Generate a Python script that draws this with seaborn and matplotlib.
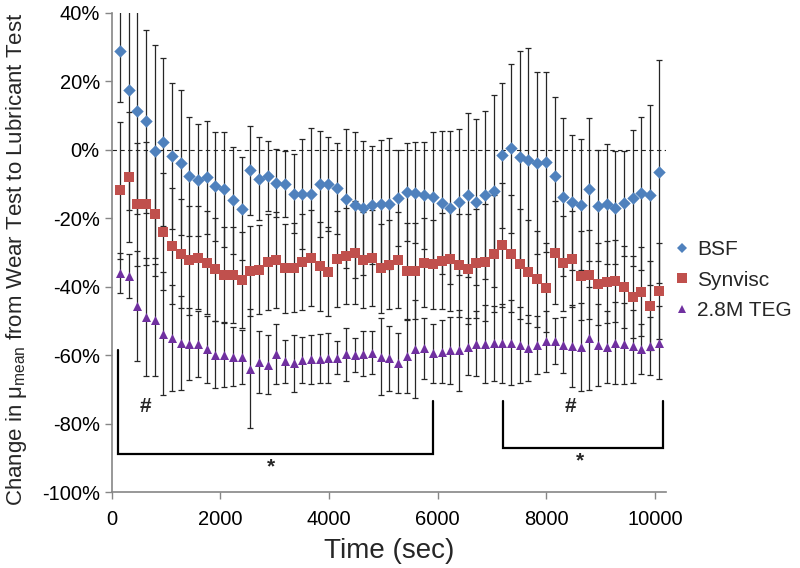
import numpy as np
import pandas as pd
import matplotlib
matplotlib.use("Agg")
import matplotlib.pyplot as plt
from matplotlib.ticker import PercentFormatter, MultipleLocator
from matplotlib.lines import Line2D
import seaborn as sns

sns.set_theme(style="ticks")
plt.rcParams["font.family"] = ["Liberation Sans", "DejaVu Sans"]
plt.rcParams["mathtext.fontset"] = "custom"
plt.rcParams["mathtext.rm"] = "Liberation Sans"
plt.rcParams["mathtext.it"] = "Liberation Sans:italic"
plt.rcParams["axes.unicode_minus"] = False

# ----------------------------------------------------------------------
# data (% change)
# ----------------------------------------------------------------------
time_sec = [150, 310, 470, 630, 790, 950, 1110, 1270, 1430, 1590,
            1750, 1910, 2070, 2230, 2390, 2550, 2710, 2870, 3030, 3190,
            3350, 3510, 3670, 3830, 3990, 4150, 4310, 4470, 4630, 4790,
            4950, 5110, 5270, 5430, 5590, 5750, 5910, 6070, 6230, 6390,
            6550, 6710, 6870, 7030, 7190, 7350, 7510, 7670, 7830, 7990,
            8150, 8310, 8470, 8630, 8790, 8950, 9110, 9270, 9430, 9590,
            9750, 9910, 10070]

bsf_mean = [28.9, 17.3, 11.3, 8.3, -0.5, 2.2, -1.8, -3.8, -7.8, -8.8,
            -8.1, -10.6, -11.6, -14.8, -17.2, -6.0, -8.5, -7.7, -9.6, -10.0,
            -12.8, -13.0, -12.8, -9.9, -9.9, -11.3, -14.3, -16.1, -17.0, -16.1,
            -15.8, -15.7, -14.1, -12.3, -12.5, -13.3, -13.9, -15.5, -16.9, -15.2,
            -13.2, -15.2, -13.2, -12.0, -1.6, 0.4, -2.2, -2.9, -3.9, -3.6,
            -7.8, -13.9, -15.4, -16.1, -11.6, -16.3, -15.9, -16.9, -15.6, -14.1,
            -12.7, -13.2, -6.4]
bsf_err = [15, 35, 30, 26.8, 31, 24.6, 21.2, 21.2, 17.5, 16.3,
           16.5, 15.9, 16.7, 15.5, 15, 13, 12.1, 10.3, 9.9, 9.7,
           11.5, 16.1, 19.1, 15.5, 13.7, 13.4, 20.3, 21.2, 19.6, 17.3,
           18.6, 19.1, 14.1, 14.2, 14.7, 15.7, 19, 20.9, 22.3, 21.4,
           23.9, 24.2, 24.6, 28.1, 21.2, 24.6, 31, 32.5, 26.5, 26.2,
           23.1, 23.1, 19.8, 19.1, 20.9, 16.3, 17.6, 16.6, 15.3, 19.9,
           22.4, 26.4, 32.5]

synvisc_mean = [-11.8, -7.9, -15.9, -15.7, -18.8, -23.9, -28.1, -30.3, -32.3, -31.5,
                -33.0, -34.9, -36.5, -36.5, -37.9, -35.4, -35.0, -32.7, -32.1, -34.6,
                -34.5, -32.7, -31.5, -34.0, -35.6, -32.0, -31.1, -30.1, -32.3, -31.5,
                -34.6, -33.6, -32.3, -35.4, -35.4, -33.0, -33.5, -32.5, -32.0, -33.7,
                -34.9, -33.2, -32.9, -30.3, -27.8, -30.3, -33.4, -35.6, -37.8, -40.3,
                -30.0, -33.2, -32.0, -36.8, -36.5, -39.1, -38.5, -38.3, -40.1, -42.9,
                -41.4, -45.6, -41.2]
synvisc_err = [20, 19, 18, 18, 18, 17, 17, 16, 16, 15,
               15, 15, 14, 14, 14, 13, 13, 14, 14, 13,
               13, 14, 14, 13, 13, 14, 14, 15, 14, 14,
               13, 13, 14, 14, 14, 13, 13, 14, 15, 15,
               16, 16, 17, 17, 18, 17, 16, 15, 14, 13,
               15, 14, 14, 13, 13, 12, 12, 12, 12, 12,
               13, 13, 14]

teg_mean = [-35.9, -36.8, -45.7, -48.8, -49.8, -53.7, -54.9, -56.3, -56.8, -56.8,
            -58.3, -59.8, -59.8, -60.4, -60.5, -63.9, -62.0, -62.7, -59.6, -61.7,
            -62.4, -61.4, -61.2, -61.0, -60.7, -60.7, -59.7, -59.9, -59.5, -59.3,
            -60.4, -60.9, -62.2, -60.3, -58.3, -58.0, -59.4, -59.0, -58.6, -58.6,
            -57.5, -56.6, -56.6, -56.5, -56.5, -56.3, -57.0, -57.8, -57.0, -55.9,
            -55.8, -57.0, -57.3, -57.6, -55.1, -57.0, -57.6, -56.4, -56.6, -57.4,
            -58.3, -57.3, -56.3]
teg_err = [5.8, 6.4, 16, 17.3, 16.3, 18, 15.4, 13.7, 10.5, 9.6,
           9.9, 9.7, 9.5, 8.6, 7.8, 17.3, 9.1, 8.5, 8.7, 6.3,
           8.4, 6.6, 7.1, 7.2, 7.3, 4.9, 7.8, 4.9, 6.6, 6.3,
           11.2, 9.5, 8.8, 10.7, 14.3, 9, 8.6, 9.2, 9.9, 11.7,
           8.3, 9.5, 11.4, 11, 11.5, 12.5, 11, 9.7, 8.4, 8.9,
           6.7, 8.2, 12, 12.9, 14.9, 12, 10.4, 12, 11.9, 10.6,
           7.3, 8.5, 10.7]

series = ["BSF", "Synvisc", "2.8M TEG"]
means = {"BSF": bsf_mean, "Synvisc": synvisc_mean, "2.8M TEG": teg_mean}
errs = {"BSF": bsf_err, "Synvisc": synvisc_err, "2.8M TEG": teg_err}
colors = {"BSF": "#4F81BD", "Synvisc": "#C0504D", "2.8M TEG": "#7030A0"}
markers = {"BSF": "D", "Synvisc": "s", "2.8M TEG": "^"}
msize = {"BSF": 40, "Synvisc": 62, "2.8M TEG": 42}

df = pd.concat([pd.DataFrame({"time": time_sec, "change": means[k],
                              "err": errs[k], "lubricant": k}) for k in series],
               ignore_index=True)

# significance brackets: (x_start, x_end, y_bottom, y_left_top, y_right_top)
brackets = [(111, 5918, -88.8, -58.5, -73.4), (7200, 10153, -87.0, -73.4, -73.4)]
hash_marks = [(628, -75.0), (8450, -75.0)]
star_marks = [(2935, -92.5), (8614, -90.8)]

# ----------------------------------------------------------------------
# plot
# ----------------------------------------------------------------------
fig = plt.figure(figsize=(8, 5.68), dpi=100)
ax = fig.add_axes([0.1396, 0.1333, 0.8324 - 0.1396, 0.9776 - 0.1333])

ax.axhline(0, color="#222222", lw=0.8, ls=(0, (4, 3)), zorder=0)

for k in series:
    s = df[df["lubricant"] == k]
    ax.errorbar(s["time"], s["change"], yerr=s["err"], fmt="none",
                ecolor="#262626", elinewidth=0.9, capsize=2.0, capthick=0.9,
                zorder=1)
for k in series:
    s = df[df["lubricant"] == k]
    sns.scatterplot(data=s, x="time", y="change", ax=ax, color=colors[k],
                    marker=markers[k], s=msize[k], linewidth=0, zorder=3,
                    legend=False)

for x0, x1, yb, yl, yr in brackets:
    ax.plot([x0, x0, x1, x1], [yl, yb, yb, yr], color="black", lw=1.6,
            solid_joinstyle="miter", clip_on=False, zorder=2)
for x, y in hash_marks:
    ax.text(x, y, "#", ha="center", va="center", fontsize=15, fontweight="bold")
for x, y in star_marks:
    ax.text(x, y, "*", ha="center", va="center", fontsize=15, fontweight="bold")

ax.set_xlim(0, 10200)
ax.set_ylim(-100, 40)
ax.xaxis.set_major_locator(MultipleLocator(2000))
ax.yaxis.set_major_locator(MultipleLocator(20))
ax.yaxis.set_major_formatter(PercentFormatter(xmax=100, decimals=0))
ax.tick_params(axis="both", labelsize=14.5, colors="#868686", labelcolor="black",
               length=5, width=1, direction="out")
ax.tick_params(axis="x", pad=8)
sns.despine(ax=ax)
for sp in ["left", "bottom"]:
    ax.spines[sp].set_color("#868686")
    ax.spines[sp].set_linewidth(1.2)

ax.set_xlabel("Time (sec)", fontsize=20, labelpad=6)
ax.set_ylabel("Change in μ$_{\\mathrm{mean}}$ from Wear Test to Lubricant Test",
              fontsize=16)
ax.yaxis.set_label_coords(-0.150, 0.485)

handles = [Line2D([], [], ls="none", marker=markers[k], color=colors[k],
                  markersize={"BSF": 5.5, "Synvisc": 7, "2.8M TEG": 6}[k],
                  markeredgewidth=0) for k in series]
fig.legend(handles, series, loc="center left", bbox_to_anchor=(0.845, 0.507),
           frameon=False, fontsize=15, handlelength=0.6, handletextpad=0.4,
           labelspacing=0.55, borderpad=0, borderaxespad=0)

fig.savefig("out.png", dpi=100)
